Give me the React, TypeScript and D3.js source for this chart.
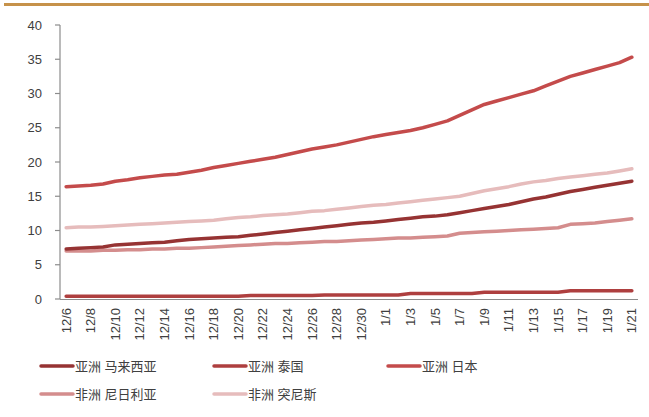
import React from "react";
import * as d3 from "d3";

// 日期：12/6 - 1/21，逐日
const dates: string[] = [
  "12/6", "12/7", "12/8", "12/9", "12/10", "12/11", "12/12", "12/13", "12/14", "12/15",
  "12/16", "12/17", "12/18", "12/19", "12/20", "12/21", "12/22", "12/23", "12/24", "12/25",
  "12/26", "12/27", "12/28", "12/29", "12/30", "12/31", "1/1", "1/2", "1/3", "1/4",
  "1/5", "1/6", "1/7", "1/8", "1/9", "1/10", "1/11", "1/12", "1/13", "1/14",
  "1/15", "1/16", "1/17", "1/18", "1/19", "1/20", "1/21",
];

const malaysia: number[] = [
  7.3, 7.4, 7.5, 7.6, 7.9, 8.0, 8.1, 8.2, 8.3, 8.5,
  8.7, 8.8, 8.9, 9.0, 9.1, 9.3, 9.5, 9.7, 9.9, 10.1,
  10.3, 10.5, 10.7, 10.9, 11.1, 11.2, 11.4, 11.6, 11.8, 12.0,
  12.1, 12.3, 12.6, 12.9, 13.2, 13.5, 13.8, 14.2, 14.6, 14.9,
  15.3, 15.7, 16.0, 16.3, 16.6, 16.9, 17.2,
];

const thailand: number[] = [
  0.4, 0.4, 0.4, 0.4, 0.4, 0.4, 0.4, 0.4, 0.4, 0.4,
  0.4, 0.4, 0.4, 0.4, 0.4, 0.5, 0.5, 0.5, 0.5, 0.5,
  0.5, 0.6, 0.6, 0.6, 0.6, 0.6, 0.6, 0.6, 0.8, 0.8,
  0.8, 0.8, 0.8, 0.8, 1.0, 1.0, 1.0, 1.0, 1.0, 1.0,
  1.0, 1.2, 1.2, 1.2, 1.2, 1.2, 1.2,
];

const japan: number[] = [
  16.4, 16.5, 16.6, 16.8, 17.2, 17.4, 17.7, 17.9, 18.1, 18.2,
  18.5, 18.8, 19.2, 19.5, 19.8, 20.1, 20.4, 20.7, 21.1, 21.5,
  21.9, 22.2, 22.5, 22.9, 23.3, 23.7, 24.0, 24.3, 24.6, 25.0,
  25.5, 26.0, 26.8, 27.6, 28.4, 28.9, 29.4, 29.9, 30.4, 31.1,
  31.8, 32.5, 33.0, 33.5, 34.0, 34.5, 35.3,
];

const nigeria: number[] = [
  7.0, 7.0, 7.0, 7.1, 7.1, 7.2, 7.2, 7.3, 7.3, 7.4,
  7.4, 7.5, 7.6, 7.7, 7.8, 7.9, 8.0, 8.1, 8.1, 8.2,
  8.3, 8.4, 8.4, 8.5, 8.6, 8.7, 8.8, 8.9, 8.9, 9.0,
  9.1, 9.2, 9.6, 9.7, 9.8, 9.9, 10.0, 10.1, 10.2, 10.3,
  10.4, 10.9, 11.0, 11.1, 11.3, 11.5, 11.7,
];

const tunisia: number[] = [
  10.4, 10.5, 10.5, 10.6, 10.7, 10.8, 10.9, 11.0, 11.1, 11.2,
  11.3, 11.4, 11.5, 11.7, 11.9, 12.0, 12.2, 12.3, 12.4, 12.6,
  12.8, 12.9, 13.1, 13.3, 13.5, 13.7, 13.8, 14.0, 14.2, 14.4,
  14.6, 14.8, 15.0, 15.4, 15.8, 16.1, 16.4, 16.8, 17.1, 17.3,
  17.6, 17.8, 18.0, 18.2, 18.4, 18.7, 19.0,
];

const yTicks: number[] = [0, 5, 10, 15, 20, 25, 30, 35, 40];

const series = [
  { name: "亚洲 马来西亚", values: malaysia, color: "#963333" },
  { name: "亚洲 泰国", values: thailand, color: "#AE3F3F" },
  { name: "亚洲 日本", values: japan, color: "#C44B4B" },
  { name: "非洲 尼日利亚", values: nigeria, color: "#D48D8D" },
  { name: "非洲 突尼斯", values: tunisia, color: "#E6BCBC" },
];

// 绘制顺序：浅色在下
const drawOrder = [4, 3, 2, 1, 0];

export default function App() {
  const width = 649;
  const height = 417;
  const margin = { left: 60, right: 11, top: 25, bottom: 118 };

  const x = d3.scalePoint<string>()
    .domain(dates)
    .range([margin.left, width - margin.right])
    .padding(0.5);

  const y = d3.scaleLinear()
    .domain([0, 40])
    .range([height - margin.bottom, margin.top]);

  const line = d3.line<number>()
    .x((_, i) => x(dates[i]) as number)
    .y(d => y(d));

  const font = "Arial, 'Liberation Sans', 'Noto Sans CJK SC', sans-serif";
  const axisColor = "#8c8c8c";
  const textColor = "#404040";

  const legendPos = [
    { x: 40, y: 366 }, { x: 213, y: 366 }, { x: 387, y: 366 },
    { x: 40, y: 394 }, { x: 213, y: 394 },
  ];

  return (
    <svg
      width={width}
      height={height}
      style={{ position: "absolute", left: 0, top: 0, display: "block", background: "#fff" }}
      fontFamily={font}
    >
      {/* 顶部色条 */}
      <rect x={4} y={3} width={width - 4} height={3} fill="#C6924A" />

      {/* Y 轴 */}
      <g>
        <line x1={margin.left} x2={margin.left} y1={y(40)} y2={y(0)} stroke={axisColor} strokeWidth={1.2} />
        {yTicks.map(t => (
          <g key={t} transform={`translate(0,${y(t)})`}>
            <line x1={margin.left - 5} x2={margin.left} stroke={axisColor} strokeWidth={1.2} />
            <text x={42} dy="0.35em" textAnchor="end" fontSize={13} fill={textColor}>{t}</text>
          </g>
        ))}
      </g>

      {/* 数据线 */}
      {drawOrder.map(k => (
        <path
          key={series[k].name}
          d={line(series[k].values) || ""}
          fill="none"
          stroke={series[k].color}
          strokeWidth={3.5}
          strokeLinecap="round"
          strokeLinejoin="round"
        />
      ))}

      {/* X 轴 */}
      <line x1={margin.left} x2={width - margin.right} y1={y(0) + 0.5} y2={y(0) + 0.5} stroke={axisColor} strokeWidth={1.2} />
      {dates.filter((_, i) => i % 2 === 0).map(d => (
        <text
          key={d}
          transform={`translate(${x(d)},308) rotate(-90)`}
          dy="0.35em"
          textAnchor="end"
          fontSize={13}
          fill={textColor}
        >
          {d}
        </text>
      ))}

      {/* 图例 */}
      {series.map((s, i) => (
        <g key={s.name} transform={`translate(${legendPos[i].x},${legendPos[i].y})`}>
          <line x1={1} x2={33} stroke={s.color} strokeWidth={3.5} strokeLinecap="round" />
          <text x={35} dy="0.35em" fontSize={13} fill={textColor}>{s.name}</text>
        </g>
      ))}
    </svg>
  );
}
